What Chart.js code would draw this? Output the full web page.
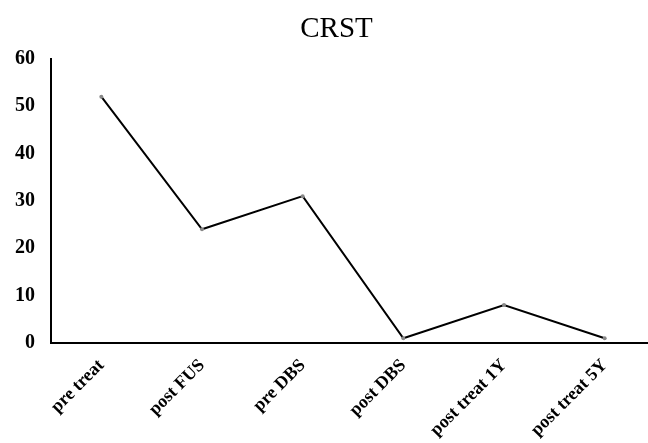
<!DOCTYPE html>
<html><head><meta charset="utf-8">
<script src="https://cdn.jsdelivr.net/npm/chart.js@4"></script>
<style>
html,body{margin:0;padding:0;background:#fff;overflow:hidden;}
#wrap{width:645px;height:443px;position:relative;margin-left:14px;}
</style></head>
<body><div id="wrap"><canvas id="c"></canvas></div>
<script>
const categories = ["pre treat","post FUS","pre DBS","post DBS","post treat 1Y","post treat 5Y"];
const crstValues = [52, 24, 31, 1, 8, 1];
const yTicks = [0,10,20,30,40,50,60];

const serif = "'Liberation Serif', 'Times New Roman', serif";
new Chart(document.getElementById('c'), {
  type: 'line',
  data: {
    labels: categories,
    datasets: [{
      label: 'CRST',
      data: crstValues,
      borderColor: '#000',
      borderWidth: 2,
      pointRadius: 2,
      pointBackgroundColor: '#888',
      pointBorderColor: '#888',
      pointBorderWidth: 0,
      tension: 0,
      fill: false
    }]
  },
  options: {
    responsive: true,
    maintainAspectRatio: false,
    animation: false,
    layout: {padding: {left: 0, right: 0, top: 0, bottom: 0}},
    plugins: {
      legend: {display: false},
      tooltip: {enabled: false},
      title: {
        display: true, text: 'CRST', color: '#000',
        font: {family: serif, size: 29, weight: 'normal'},
        padding: {top: 12, bottom: 12}
      }
    },
    scales: {
      x: {
        offset: true,
        grid: {display: false},
        border: {display: true, color: '#000', width: 2},
        ticks: {
          color: '#000', maxRotation: 45, minRotation: 45, padding: 4,
          font: {family: serif, size: 18, weight: 'bold'}
        },
        afterFit: s => { s.height = 100; }
      },
      y: {
        min: 0, max: 60,
        grid: {display: false},
        border: {display: true, color: '#000', width: 2},
        afterBuildTicks: s => { s.ticks = yTicks.map(v => ({value: v})); },
        ticks: {
          color: '#000', padding: 8,
          font: {family: serif, size: 20, weight: 'bold'}
        },
        afterFit: s => { s.width = 37; }
      }
    }
  }
});
</script></body></html>
